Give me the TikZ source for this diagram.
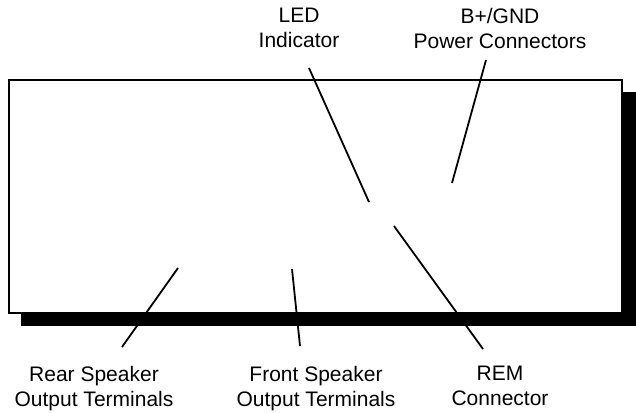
\documentclass[tikz,border=0pt]{standalone}
\usepackage{fontspec}
\setmainfont{Liberation Sans}
\begin{document}
\begin{tikzpicture}[x=1pt,y=-1pt,
  lbl/.style={align=center,inner sep=0pt,anchor=north,font=\fontsize{21}{25}\selectfont},
  leader/.style={line width=1.8pt}]
\useasboundingbox (0,0) rectangle (636,412);
% shadow and box
\fill[black] (21,92) rectangle (636,326);
\draw[line width=2pt,fill=white] (9,80) rectangle (622,313);
% labels
\node[lbl] (led) at (299,8) {LED\\Indicator};
\node[lbl] (pwr) at (500,8) {B+/GND\\Power Connectors};
\node[lbl] (rear) at (94,366) {Rear Speaker\\Output Terminals};
\node[lbl] (front) at (316,366) {Front Speaker\\Output Terminals};
\node[lbl] (rem) at (500,366) {REM\\Connector};
% leader end points
\coordinate (ledA) at (309,68);  \coordinate (ledB) at (369,202);
\coordinate (pwrA) at (486,60);  \coordinate (pwrB) at (452,183);
\coordinate (rearA) at (122,347); \coordinate (rearB) at (178,268);
\coordinate (frontA) at (300,346); \coordinate (frontB) at (292,269);
\coordinate (remA) at (483,349); \coordinate (remB) at (394,226);
\draw[leader] (ledA) -- (ledB);
\draw[leader] (pwrA) -- (pwrB);
\draw[leader] (rearA) -- (rearB);
\draw[leader] (frontA) -- (frontB);
\draw[leader] (remA) -- (remB);
\end{tikzpicture}
\end{document}
